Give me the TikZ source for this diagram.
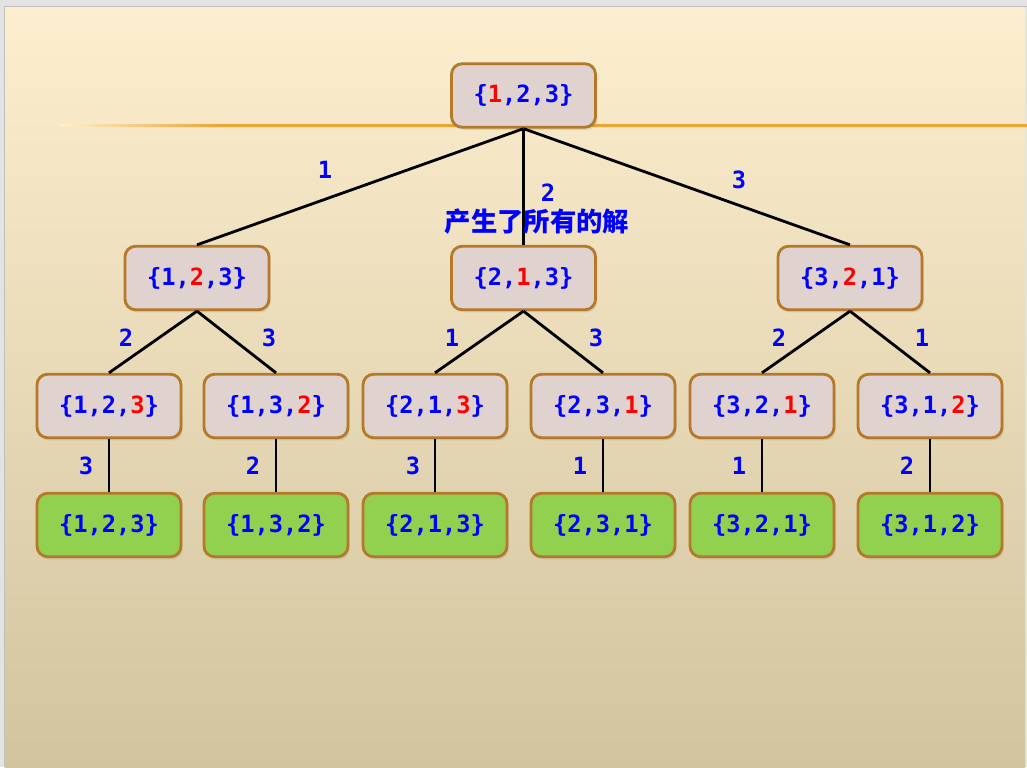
\documentclass[tikz,border=0pt]{standalone}
\usepackage{fontspec}
\setmonofont{DejaVu Sans Mono}
\newfontfamily\cjk{Noto Sans CJK SC}
\usepackage{tikz}
\usetikzlibrary{shadows}
\usepackage{xcolor}
\definecolor{frame}{HTML}{E3E3E3}
\definecolor{slidetop}{HTML}{FDEECF}
\definecolor{slidemid}{HTML}{F3EAD3}
\definecolor{slidebot}{HTML}{D2C49E}
\definecolor{rule}{HTML}{F0A232}
\definecolor{boxline}{HTML}{B5792A}
\definecolor{boxfill}{HTML}{E0D2CE}
\definecolor{leafgreen}{HTML}{92D050}

\newcommand{\rd}[1]{\textcolor{red}{#1}}

\begin{document}
\begin{tikzpicture}[x=0.02cm, y=-0.02cm,
    state/.style={rectangle, draw=boxline, line width=1.6pt, fill=boxfill,
        minimum width=2.88cm, minimum height=1.27cm, rounded corners=6pt,
        font=\fontsize{13.5}{15}\selectfont\ttfamily\bfseries, text=blue,
        drop shadow={opacity=0.2, shadow xshift=1pt, shadow yshift=-1.5pt}},
    leaf/.style={state, fill=leafgreen},
    edge/.style={line width=1.6pt, black},
    lbl/.style={font=\fontsize{13.5}{15}\selectfont\ttfamily\bfseries, text=blue}
]
    % slide background
    \useasboundingbox (0,0) rectangle (1027,767);
    \fill[frame] (0,0) rectangle (1027,767);
    \shade[top color=slidetop, middle color=slidemid, bottom color=slidebot]
        (5,7) rectangle (1025,767);
    \draw[gray!50, line width=0.6pt] (4.5,767) -- (4.5,6.5) -- (1027,6.5);
    \shade[left color=slidetop, right color=rule] (60,124) rectangle (220,126.5);
    \fill[rule] (220,124) rectangle (1027,126.5);

    % tree
    \node[state] (r) at (523.5,95.5) {\{\rd{1},2,3\}};

    \node[state] (a) at (197,278) {\{1,\rd{2},3\}};
    \node[state] (b) at (523.5,278) {\{2,\rd{1},3\}};
    \node[state] (c) at (850,278) {\{3,\rd{2},1\}};

    \node[state] (a1) at (109,406) {\{1,2,\rd{3}\}};
    \node[state] (a2) at (276,406) {\{1,3,\rd{2}\}};
    \node[state] (b1) at (435,406) {\{2,1,\rd{3}\}};
    \node[state] (b2) at (603,406) {\{2,3,\rd{1}\}};
    \node[state] (c1) at (762,406) {\{3,2,\rd{1}\}};
    \node[state] (c2) at (930,406) {\{3,1,\rd{2}\}};

    \node[leaf] (a1s) at (109,525) {\{1,2,3\}};
    \node[leaf] (a2s) at (276,525) {\{1,3,2\}};
    \node[leaf] (b1s) at (435,525) {\{2,1,3\}};
    \node[leaf] (b2s) at (603,525) {\{2,3,1\}};
    \node[leaf] (c1s) at (762,525) {\{3,2,1\}};
    \node[leaf] (c2s) at (930,525) {\{3,1,2\}};

    \draw[edge] (r.south) -- (a.north);
    \draw[edge] (r.south) -- (b.north);
    \draw[edge] (r.south) -- (c.north);
    \draw[edge] (a.south) -- (a1.north);
    \draw[edge] (a.south) -- (a2.north);
    \draw[edge] (b.south) -- (b1.north);
    \draw[edge] (b.south) -- (b2.north);
    \draw[edge] (c.south) -- (c1.north);
    \draw[edge] (c.south) -- (c2.north);
    \draw[edge] (a1) -- (a1s);
    \draw[edge] (a2) -- (a2s);
    \draw[edge] (b1) -- (b1s);
    \draw[edge] (b2) -- (b2s);
    \draw[edge] (c1) -- (c1s);
    \draw[edge] (c2) -- (c2s);

    % edge labels
    \node[lbl] (l1) at (325,170) {1};
    \node[lbl] (l2) at (548,193) {2};
    \node[lbl] (l3) at (739,180) {3};
    \node[lbl] (la1) at (126,338) {2};
    \node[lbl] (la2) at (269,338) {3};
    \node[lbl] (lb1) at (452,338) {1};
    \node[lbl] (lb2) at (596,338) {3};
    \node[lbl] (lc1) at (779,338) {2};
    \node[lbl] (lc2) at (922,338) {1};
    \node[lbl] (sa1) at (86,466) {3};
    \node[lbl] (sa2) at (253,466) {2};
    \node[lbl] (sb1) at (413,466) {3};
    \node[lbl] (sb2) at (580,466) {1};
    \node[lbl] (sc1) at (739,466) {1};
    \node[lbl] (sc2) at (907,466) {2};

    \node[text=blue, font=\fontsize{15}{17}\cjk\bfseries] (note) at (537,222) {产生了所有的解};
\end{tikzpicture}
\end{document}
